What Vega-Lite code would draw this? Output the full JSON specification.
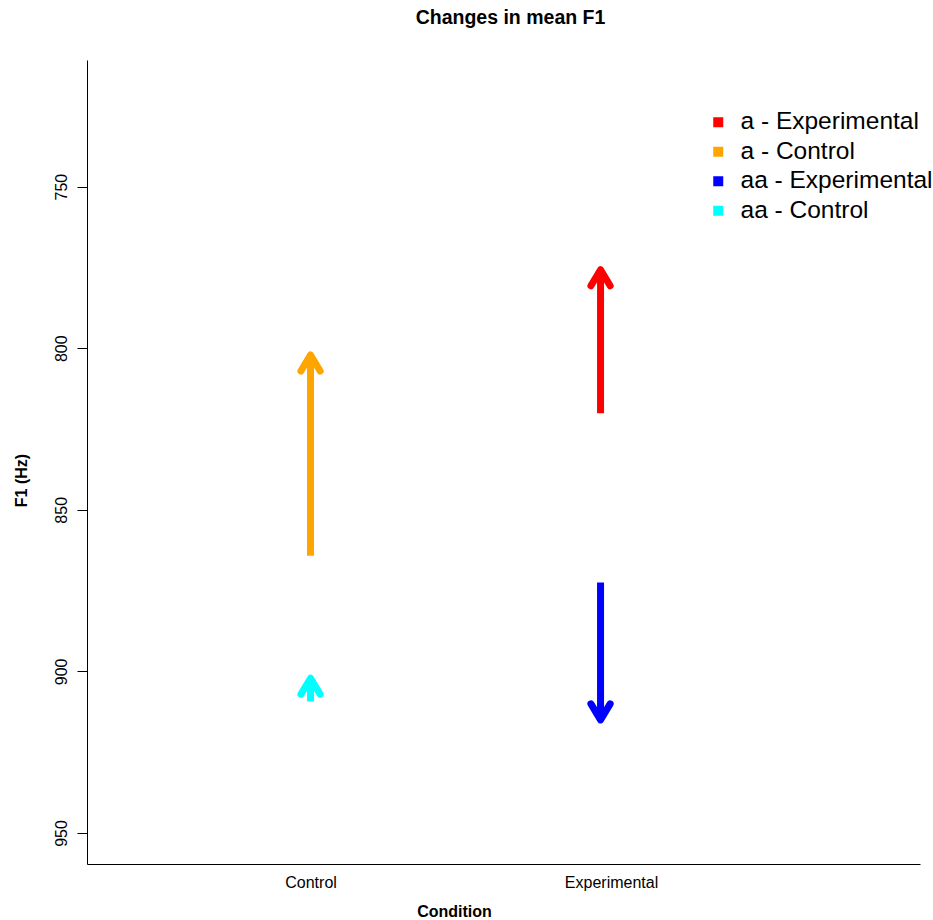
{
  "$schema": "https://vega.github.io/schema/vega-lite/v6.json",
  "autosize": "none",
  "padding": {"left": 87, "top": 60, "right": 13, "bottom": 56},
  "width": 833,
  "height": 804,
  "background": "white",
  "title": {
    "text": "Changes in mean F1",
    "font": "Liberation Sans",
    "fontSize": 19.5,
    "fontWeight": "bold",
    "color": "black",
    "anchor": "middle",
    "baseline": "alphabetic",
    "offset": 17,
    "dx": 7
  },
  "data": {
    "values": [
      {"group": "a - Experimental", "x": 1.965, "start": 820.1, "end": 775.7, "dir": "up"},
      {"group": "a - Control", "x": 1, "start": 864.2, "end": 802.1, "dir": "up"},
      {"group": "aa - Experimental", "x": 1.965, "start": 872.5, "end": 915.0, "dir": "down"},
      {"group": "aa - Control", "x": 1, "start": 909.3, "end": 902.1, "dir": "up"}
    ]
  },
  "encoding": {
    "x": {
      "field": "x",
      "type": "quantitative",
      "scale": {"domain": [0.2562, 3.028], "nice": false, "zero": false},
      "axis": {
        "title": "Condition",
        "values": [1, 2],
        "labelExpr": "datum.value == 1 ? 'Control' : 'Experimental'",
        "ticks": false,
        "labelPadding": 10,
        "labelFontSize": 16,
        "labelFlush": false,
        "titleFontSize": 16,
        "titleFontWeight": "bold",
        "titleX": 367,
        "titleY": 52,
        "titleBaseline": "alphabetic",
        "titleAnchor": "middle",
        "titleAlign": "center"
      }
    },
    "color": {
      "field": "group",
      "type": "nominal",
      "scale": {
        "domain": ["a - Experimental", "a - Control", "aa - Experimental", "aa - Control"],
        "range": ["#FF0000", "#FFA500", "#0000FF", "#00FFFF"]
      },
      "legend": {
        "title": null,
        "orient": "none",
        "legendX": 619,
        "legendY": 50,
        "padding": 0,
        "symbolType": "square",
        "symbolSize": 100,
        "symbolStrokeWidth": 0,
        "labelFontSize": 24.5,
        "labelOffset": 10,
        "rowPadding": 4.5,
        "labelFont": "Liberation Sans",
        "labelColor": "black",
        "labelLimit": 400,
        "encode": {
          "symbols": {
            "update": {
              "fill": {"scale": "color", "field": "value"},
              "stroke": {"value": "transparent"},
              "opacity": {"value": 1}
            }
          }
        }
      }
    }
  },
  "layer": [
    {
      "mark": {"type": "rule", "strokeWidth": 7, "strokeCap": "butt"},
      "encoding": {
        "y": {
          "field": "start",
          "type": "quantitative",
          "scale": {"domain": [710.8, 959.6], "reverse": true, "nice": false, "zero": false},
          "axis": {
            "title": "F1 (Hz)",
            "values": [750, 800, 850, 900, 950],
            "labelAngle": -90,
            "labelFontSize": 16,
            "tickSize": 10,
            "labelPadding": 8,
            "titleFontSize": 16,
            "titleFontWeight": "bold",
            "titleX": -61,
            "titleY": 420,
            "titleAngle": -90,
            "titleBaseline": "alphabetic",
            "titleAlign": "center"
          }
        },
        "y2": {"field": "end"}
      }
    },
    {
      "mark": {"type": "point", "filled": false, "strokeWidth": 7, "strokeJoin": "round", "strokeCap": "round", "size": 1024, "opacity": 1},
      "encoding": {
        "y": {"field": "end", "type": "quantitative"},
        "shape": {
          "field": "dir",
          "type": "nominal",
          "scale": {"domain": ["up", "down"], "range": ["M-0.6,1L0,0L0.6,1", "M-0.6,-1L0,0L0.6,-1"]},
          "legend": null
        }
      }
    }
  ],
  "config": {
    "view": {"stroke": null},
    "axis": {
      "grid": false,
      "labelFont": "Liberation Sans",
      "titleFont": "Liberation Sans",
      "labelColor": "black",
      "titleColor": "black",
      "domainColor": "black",
      "tickColor": "black",
      "domainWidth": 1,
      "tickWidth": 1
    }
  }
}
